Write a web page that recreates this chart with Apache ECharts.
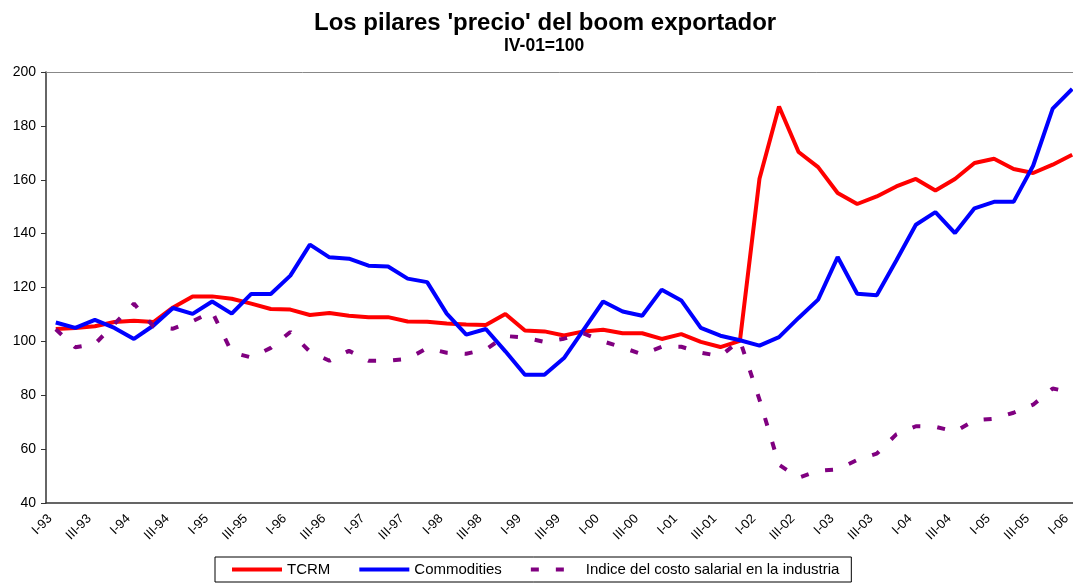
<!DOCTYPE html>
<html>
<head>
<meta charset="utf-8">
<script src="https://cdn.jsdelivr.net/npm/echarts@6/dist/echarts.min.js"></script>
<style>
  html, body { margin: 0; padding: 0; background: #fff; }
  #main { width: 1073px; height: 584px; }
</style>
</head>
<body>
<div id="main"></div>
<script>
// trimestres I-93 .. I-06
var quarters = [
    'I-93', 'II-93', 'III-93', 'IV-93',
    'I-94', 'II-94', 'III-94', 'IV-94',
    'I-95', 'II-95', 'III-95', 'IV-95',
    'I-96', 'II-96', 'III-96', 'IV-96',
    'I-97', 'II-97', 'III-97', 'IV-97',
    'I-98', 'II-98', 'III-98', 'IV-98',
    'I-99', 'II-99', 'III-99', 'IV-99',
    'I-00', 'II-00', 'III-00', 'IV-00',
    'I-01', 'II-01', 'III-01', 'IV-01',
    'I-02', 'II-02', 'III-02', 'IV-02',
    'I-03', 'II-03', 'III-03', 'IV-03',
    'I-04', 'II-04', 'III-04', 'IV-04',
    'I-05', 'II-05', 'III-05', 'IV-05',
    'I-06'
];

var tcrm = [
    104.6, 105, 105.6, 107.2, 107.7, 107.2, 112.6, 116.7, 116.7, 115.8,
    114, 112, 111.8, 109.8, 110.5, 109.5, 109, 109, 107.4, 107.3,
    106.6, 106.3, 106.1, 110.2, 104, 103.7, 102.2, 103.7, 104.3, 103,
    103, 100.9, 102.7, 99.8, 97.9, 100.2, 160.4, 187.2, 170.3, 164.7,
    155.1, 151, 153.8, 157.5, 160.3, 156, 160.3, 166.2, 167.8, 164,
    162.5, 165.6, 169.3
];

var commodities = [
    107, 105, 108, 105, 100.9, 105.9, 112.4, 110.2, 114.8, 110.3,
    117.6, 117.6, 124.4, 135.9, 131.2, 130.7, 128.1, 127.8, 123.3, 122,
    110.3, 102.5, 104.6, 96.3, 87.6, 87.6, 93.8, 104.3, 114.8, 111.1,
    109.5, 119.2, 115.2, 105, 102.1, 100.4, 98.4, 101.6, 108.7, 115.5,
    131.3, 117.7, 117.1, 130, 143.3, 148, 140.2, 149.4, 151.8, 151.8,
    165.2, 186.4, 193.7
];

var costoSalarial = [
    104.5, 97.8, 99, 106.5, 114, 105.5, 104.7, 107.5, 111, 96,
    94, 97.6, 103.5, 96.2, 92.8, 96.5, 92.8, 92.8, 93.5, 97.5,
    95.8, 95.4, 97, 102, 101.4, 99.8, 101, 103, 100, 97.7,
    95.2, 98, 98, 95.8, 94.5, 100.4, 78.4, 54.2, 49.4, 52,
    52.5, 56, 58.3, 65.5, 68.5, 68.3, 66.5, 70.7, 71.3, 73.5,
    76.5, 82.5, 81
];

var chart = echarts.init(document.getElementById('main'));

chart.setOption({
    animation: false,
    textStyle: { fontFamily: 'Liberation Sans, Arial, sans-serif' },
    title: [
        {
            text: "Los pilares 'precio' del boom exportador",
            left: 309,
            top: 6,
            textStyle: { fontSize: 24, fontWeight: 'bold', color: '#000' }
        },
        {
            text: 'IV-01=100',
            left: 499,
            top: 32,
            textStyle: { fontSize: 17.5, fontWeight: 'bold', color: '#000' }
        }
    ],
    legend: {
        left: 215,
        top: 557,
        padding: [5, 12, 5, 15],
        itemWidth: 50,
        itemHeight: 14,
        itemGap: 27,
        borderColor: '#000',
        borderWidth: 1,
        itemStyle: { opacity: 0 },
        lineStyle: { width: 4 },
        textStyle: { fontSize: 15, color: '#000' },
        data: ['TCRM', 'Commodities', 'Indice del costo salarial en la industria']
    },
    grid: {
        left: 46,
        top: 72,
        bottom: 81,
        right: -9,
        outerBoundsMode: 'none'
    },
    xAxis: [
        {
            type: 'category',
            data: quarters,
            boundaryGap: true,
            axisLine: { lineStyle: { color: '#333', width: 1.5 } },
            axisTick: { interval: 0, length: 5, lineStyle: { color: '#333' } },
            axisLabel: {
                interval: 1,
                rotate: 45,
                fontSize: 13,
                color: '#000',
                margin: 8,
                padding: [0, 8, 0, 0]
            }
        },
        {
            type: 'category',
            position: 'top',
            data: quarters,
            axisLine: { lineStyle: { color: '#888' } },
            axisTick: { show: false },
            axisLabel: { show: false }
        }
    ],
    yAxis: {
        type: 'value',
        min: 40,
        max: 200,
        interval: 20,
        axisLine: { show: true, lineStyle: { color: '#333', width: 1.5 } },
        axisTick: { show: true, length: 5, lineStyle: { color: '#333' } },
        splitLine: { show: false },
        axisLabel: { fontSize: 14, color: '#000', margin: 10 }
    },
    series: [
        {
            name: 'TCRM',
            type: 'line',
            data: tcrm,
            symbol: 'none',
            color: '#ff0000',
            lineStyle: { width: 4, color: '#ff0000' }
        },
        {
            name: 'Commodities',
            type: 'line',
            data: commodities,
            symbol: 'none',
            color: '#0000ff',
            lineStyle: { width: 4, color: '#0000ff' }
        },
        {
            name: 'Indice del costo salarial en la industria',
            type: 'line',
            data: costoSalarial,
            symbol: 'none',
            color: '#800080',
            lineStyle: { width: 4, color: '#800080', type: [8, 17] }
        }
    ]
});
</script>
</body>
</html>
